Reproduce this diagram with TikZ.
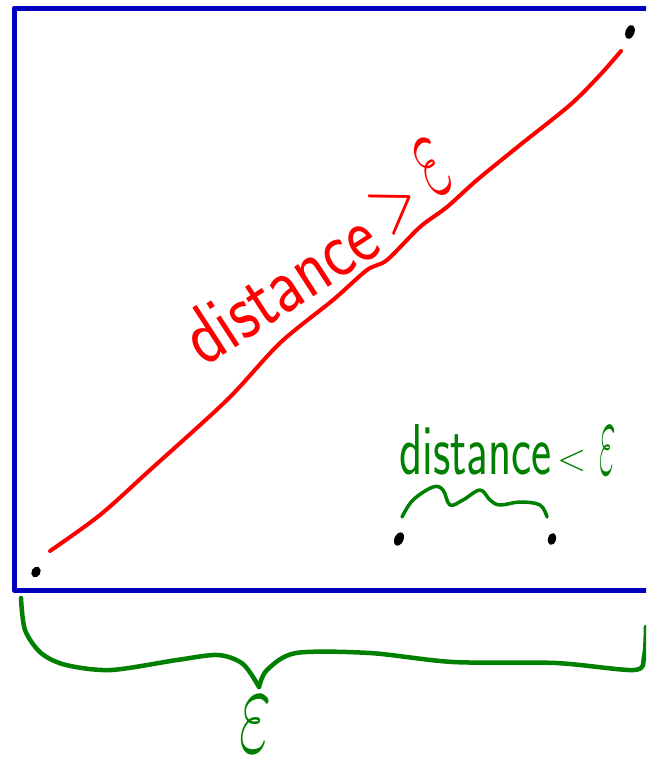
\RequirePackage{fix-cm}
\documentclass[tikz,border=0pt]{standalone}
\usetikzlibrary{shapes.geometric}
\definecolor{boxblue}{RGB}{0,0,190}
\definecolor{penred}{RGB}{255,0,0}
\definecolor{pengreen}{RGB}{0,128,0}
\tikzset{
  dotmark/.style={ellipse, fill=black, inner sep=0pt, minimum width=9pt, minimum height=14pt},
  frame/.style={draw=boxblue, line width=5pt, line join=round},
  redpen/.style={draw=penred, line width=4pt, line cap=round, line join=round},
  greenpen/.style={draw=pengreen, line width=4.5pt, line cap=round, line join=round},
  hand/.style={inner sep=0pt, font=\sffamily},
}
\begin{document}
\begin{tikzpicture}[x=1pt,y=-1pt]
\useasboundingbox (0,0) rectangle (646,763);
\clip (0,0) rectangle (646,763);
\fill[white] (0,0) rectangle (646,763);
% frame
\draw[frame] (660,8) -- (14,8) -- (14,590) -- (660,590);
% dots
\node[dotmark, rotate=-20] (p1) at (630,32) {};
\node[dotmark, rotate=-30, minimum height=11pt] (p2) at (36,572) {};
\node[dotmark, rotate=-25] (p3) at (399,539) {};
\node[dotmark, rotate=-15, minimum width=8pt, minimum height=12pt] (p4) at (552,539) {};
% red line
\draw[redpen] plot[smooth, tension=0.5] coordinates {(50,551) (100,515) (150,470) (227,400) (280,343) (333,300) (367,270) (387,260) (420,227) (447,207) (477,180) (520,145) (570,105) (600,75) (621,51)};
\node[hand, text=penred, anchor=base west, rotate=33, font=\sffamily\fontsize{54}{60}\selectfont] (far) at (204,368) {\scalebox{1.25}[1.5]{distance}\hspace{12pt}\raisebox{10pt}{\scalebox{1.1}[1.6]{>}}\hspace{14pt}\raisebox{16pt}{\scalebox{1.2}[2.4]{$\varepsilon$}}};
% green label and squiggle
\node[hand, text=pengreen, anchor=base west, font=\sffamily\fontsize{48}{52}\selectfont] (near) at (399,474) {\scalebox{1.0}[1.5]{distance}\hspace{6pt}\raisebox{4pt}{\scalebox{0.8}{<}}\hspace{12pt}\scalebox{0.75}[2.3]{$\varepsilon$}};
\draw[greenpen, line width=3.5pt] plot[smooth, tension=0.6] coordinates {(402,517) (413,500) (433,487) (443,490) (450,505) (463,500) (480,490) (490,500) (500,505) (520,502) (540,505) (547,517)};
% brace
\draw[greenpen] plot[smooth, tension=0.5] coordinates {(21,598) (25,630) (41,653) (66,665) (111,670) (177,660) (218,655) (243,664) (259,687)};
\draw[greenpen] plot[smooth, tension=0.5] coordinates {(259,687) (267,670) (296,653) (370,653) (453,662) (556,663) (634,670) (644,657) (646,627)};
\node[hand, text=pengreen, font=\fontsize{100}{100}\selectfont] (eps) at (256,725) {\scalebox{0.7}[1.3]{$\varepsilon$}};
\end{tikzpicture}
\end{document}
